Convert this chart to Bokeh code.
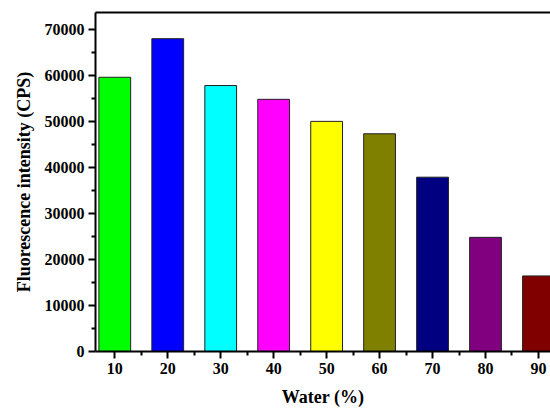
from bokeh.plotting import figure
from bokeh.models import FixedTicker, LinearAxis, Range1d, ColumnDataSource
from bokeh.embed import file_html
from bokeh.resources import INLINE

water = [10, 20, 30, 40, 50, 60, 70, 80, 90]
intensity = [59700, 68100, 57900, 54900, 50100, 47400, 37950, 24850, 16450]
colors = ["#00FF00", "#0000FF", "#00FFFF", "#FF00FF", "#FFFF00",
          "#808000", "#000080", "#800080", "#800000"]
y_ticks = [0, 10000, 20000, 30000, 40000, 50000, 60000, 70000]
y_minor = [5000, 15000, 25000, 35000, 45000, 55000, 65000]
x_minor = [15, 25, 35, 45, 55, 65, 75, 85]

FONT = "Liberation Serif"

p = figure(width=550, height=412, output_backend="svg", toolbar_location=None,
           x_range=Range1d(6.36, 92.27), y_range=Range1d(0, 73800),
           min_border_left=95, min_border_right=0, min_border_top=12,
           min_border_bottom=61)
p.outline_line_color = None
p.xgrid.visible = False
p.ygrid.visible = False
p.background_fill_color = "white"
p.border_fill_color = "white"

src = ColumnDataSource(dict(x=water, top=intensity, color=colors))
p.vbar(x="x", top="top", bottom=0, width=6, fill_color="color",
       line_color="#222222", line_width=1, source=src)

for ax in (p.xaxis[0], p.yaxis[0]):
    ax.axis_line_width = 2
    ax.axis_line_color = "black"
    ax.major_tick_line_width = 2
    ax.minor_tick_line_width = 2
    ax.major_tick_in = 0
    ax.major_tick_out = 7
    ax.minor_tick_in = 0
    ax.minor_tick_out = 4
    ax.major_label_text_font = FONT
    ax.major_label_text_font_style = "bold"
    ax.major_label_text_font_size = "16px"
    ax.major_label_text_color = "black"
    ax.major_label_standoff = 4
    ax.axis_label_text_font = FONT
    ax.axis_label_text_font_style = "bold"
    ax.axis_label_text_font_size = "18px"
    ax.axis_label_text_color = "black"

p.xaxis[0].ticker = FixedTicker(ticks=water, minor_ticks=x_minor)
p.yaxis[0].ticker = FixedTicker(ticks=y_ticks, minor_ticks=y_minor)
p.xaxis[0].axis_label = "Water (%)"
p.yaxis[0].axis_label = "Fluorescence intensity (CPS)"
p.xaxis[0].axis_label_standoff = 10
p.yaxis[0].axis_label_standoff = 8

top_axis = LinearAxis(ticker=FixedTicker(ticks=[]), axis_line_width=2,
                      axis_line_color="black", major_tick_out=0, major_tick_in=0,
                      minor_tick_out=0, minor_tick_in=0,
                      major_label_text_font_size="0px")
p.add_layout(top_axis, "above")

open("out.html", "w").write(file_html(p, INLINE))
